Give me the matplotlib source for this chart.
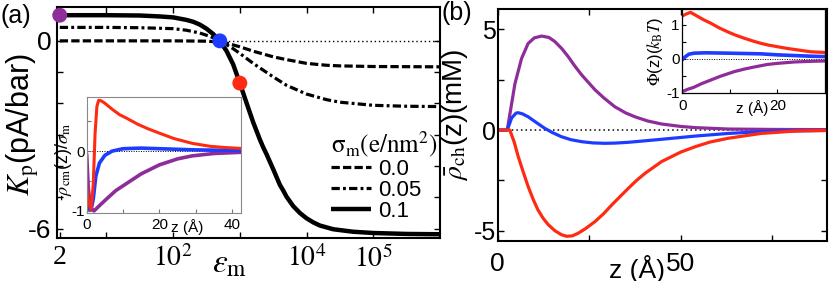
import matplotlib
matplotlib.use('Agg')
import matplotlib.pyplot as plt
import numpy as np

plt.rcParams['font.family'] = ['Liberation Sans', 'DejaVu Sans']
plt.rcParams['mathtext.fontset'] = 'stix'

purple = '#8E2C9A'
red = '#FF2A12'
blue = '#1E3CFF'

# ---- panel (a): K_p vs eps_m, three membrane charges
eps_01 = [2, 10, 31.6, 63.1, 100, 158, 200, 251, 316, 398, 501, 631, 794, 1000,
          1259, 1585, 1995, 2239, 2512, 3162, 3981, 4467, 5012, 6310, 7943,
          1e4, 1.26e4, 1.58e4, 2.51e4, 5.01e4, 1e5, 3.16e5, 1e6]
kp_01 = [0.82, 0.82, 0.81, 0.78, 0.75, 0.67, 0.61, 0.52, 0.39, 0.22, 0.0, -0.32,
         -0.75, -1.35, -1.98, -2.6, -3.15, -3.4, -3.62, -4.1, -4.6, -4.78, -4.98,
         -5.28, -5.5, -5.67, -5.8, -5.9, -6.02, -6.1, -6.14, -6.17, -6.18]

eps_005 = [2, 10, 31.6, 100, 158, 251, 316, 398, 501, 631, 794, 1000, 1585,
           3162, 5012, 1e4, 2e4, 3.16e4, 1e5, 3.16e5, 1e6]
kp_005 = [0.43, 0.43, 0.42, 0.39, 0.34, 0.25, 0.18, 0.1, 0.0, -0.12, -0.25, -0.4,
          -0.72, -1.15, -1.42, -1.7, -1.88, -1.96, -2.06, -2.09, -2.1]

eps_00 = [2, 100, 316, 501, 631, 1000, 1585, 3162, 5012, 1e4, 2e4, 3.16e4, 1e5, 1e6]
kp_00 = [0.0, 0.0, -0.01, -0.04, -0.07, -0.19, -0.33, -0.51, -0.6, -0.72, -0.78,
         -0.8, -0.82, -0.83]

dot_eps = [2, 501, 1000]
dot_kp = [0.82, 0.0, -1.35]
dot_colors = [purple, blue, red]

# inset (a): -rho_cm(z)/sigma_m
za_red = [0, 0.5, 1.2, 1.8, 2.3, 2.8, 3.3, 4, 5, 7, 9, 11, 14, 17, 20, 24, 29, 34, 38, 42.5]
ra_red = [-0.6, -0.85, -0.98, -0.55, 0.3, 0.75, 0.85, 0.84, 0.8, 0.7, 0.61, 0.55,
          0.45, 0.37, 0.3, 0.21, 0.13, 0.08, 0.06, 0.045]
za_blue = [0, 0.6, 1.2, 1.8, 2.5, 3.5, 5, 7, 10, 15, 20, 30, 42.5]
ra_blue = [-0.82, -0.97, -0.98, -0.8, -0.42, -0.2, -0.07, 0.0, 0.04, 0.05, 0.04, 0.02, 0.01]
za_purple = [0, 0.4, 1.0, 2.0, 3.7, 6, 8, 11, 15, 20, 25, 29, 35, 42.5]
ra_purple = [-0.07, -0.6, -0.95, -1.0, -0.9, -0.77, -0.66, -0.54, -0.38, -0.23,
             -0.13, -0.08, -0.04, -0.02]

# ---- panel (b): rho_ch(z) in mM
zb_purple = [0, 2.6, 4.7, 6.5, 8.3, 10, 12, 14, 15.6, 17.5, 19.3, 21, 23, 26.6, 29,
             32, 35, 37.5, 41, 44.8, 50, 54, 63, 75, 90]
rb_purple = [0, 0.0, 2.3, 3.55, 4.3, 4.58, 4.67, 4.6, 4.4, 4.05, 3.64, 3.2, 2.73,
             2.0, 1.6, 1.16, 0.85, 0.66, 0.45, 0.3, 0.18, 0.12, 0.05, 0.03, 0.02]
zb_blue = [0, 2.6, 3.8, 5.0, 5.6, 6.8, 8.3, 10.5, 12.9, 15, 17.4, 20, 23, 26, 29.3,
           32, 35.7, 40, 44.8, 50, 54, 63, 70, 76.8, 90]
rb_blue = [0, 0.0, 0.6, 0.84, 0.86, 0.8, 0.66, 0.38, 0.08, -0.13, -0.33, -0.48,
           -0.58, -0.64, -0.66, -0.65, -0.61, -0.54, -0.46, -0.37, -0.3, -0.17,
           -0.1, -0.05, -0.02]
zb_red = [0, 3.3, 4.5, 5.6, 7, 8.3, 9.7, 11, 12.4, 13.8, 15.6, 17.4, 18.8, 20.4,
          22, 24, 26.6, 29, 31.2, 33.5, 35.7, 38, 40.3, 44.8, 50, 54, 58, 63, 72,
          81.4, 90]
rb_red = [0, 0.0, -0.6, -1.32, -2.1, -2.8, -3.45, -3.97, -4.38, -4.7, -5.0, -5.2,
          -5.28, -5.26, -5.13, -4.9, -4.55, -4.15, -3.72, -3.3, -2.9, -2.5, -2.15,
          -1.57, -1.1, -0.83, -0.6, -0.41, -0.17, -0.05, -0.02]

# inset (b): Phi(z) in kT
zi_red = [0, 0.8, 1.75, 3, 4.5, 6, 7.8, 9.5, 11, 13, 15, 16.5, 18, 20, 22, 23.5, 25, 27, 28.5, 30]
pi_red = [1.25, 1.31, 1.36, 1.26, 1.14, 1.04, 0.9, 0.79, 0.7, 0.6, 0.51, 0.45, 0.4,
          0.35, 0.3, 0.27, 0.24, 0.2, 0.19, 0.18]
zi_blue = [0, 0.6, 1.4, 2.5, 5, 9.5, 13, 16.5, 20, 23.5, 27, 30]
pi_blue = [-0.03, 0.05, 0.13, 0.16, 0.17, 0.16, 0.15, 0.14, 0.11, 0.09, 0.07, 0.06]
zi_purple = [0, 1.2, 2.5, 4, 6, 8, 9.5, 11, 13, 15, 16.5, 18, 20, 23.5, 27, 30]
pi_purple = [-0.97, -0.9, -0.84, -0.74, -0.63, -0.52, -0.45, -0.38, -0.31, -0.25,
             -0.21, -0.17, -0.14, -0.1, -0.08, -0.07]

fig = plt.figure(figsize=(8.3, 2.81), dpi=100)

# ---------------- panel (a)
ax = fig.add_axes([0.0683, 0.153, 0.4618, 0.823])
ax.set_xscale('log')
ax.plot(eps_00, kp_00, color='k', lw=2.3, dashes=(2.6, 1.0), label='0.0')
ax.plot(eps_005, kp_005, color='k', lw=2.3, dashes=(2.6, 1.0, 0.9, 1.0), label='0.05')
ax.plot(eps_01, kp_01, color='k', lw=3.2, solid_capstyle='butt', label='0.1')
ax.hlines(0, dot_eps[1], eps_01[-1], colors='k', linestyles=(0, (1, 2)), lw=1)
ax.scatter(dot_eps, dot_kp, s=95, c=dot_colors, zorder=5, clip_on=False)
ax.set_xlim(1.8, 1e6)
ax.set_ylim(-6.3, 1.09)
ax.set_xticks([2, 10, 100, 1000, 1e4, 1e5])
ax.set_xticklabels(['2', '', r'$10^2$', '', r'$10^4$', r'$10^5$'],
                   family='Liberation Serif')
ax.xaxis.set_minor_locator(matplotlib.ticker.NullLocator())
ax.set_yticks(range(-6, 1))
ax.set_yticklabels(['-6', '', '', '', '', '', '0'])
ax.tick_params(direction='in', top=True, right=True, length=4.5, width=1)
ax.tick_params(axis='x', labelsize=20, pad=5)
ax.tick_params(axis='y', labelsize=19, pad=4)
for s in ax.spines.values():
    s.set_linewidth(1.5)
ax.set_ylabel(r'$K_{\rm p}$(pA/bar)', fontsize=22)
ax.yaxis.set_label_coords(-0.04, 0.49)
ax.set_xlabel(r'$\varepsilon_{\rm m}$', fontsize=24)
ax.xaxis.set_label_coords(0.452, -0.045)
leg = ax.legend(loc='lower left', bbox_to_anchor=(0.715, 0.07), frameon=False,
                fontsize=16, title=r'$\mathrm{\sigma_m(e/nm^2)}$',
                title_fontsize=18, handlelength=1.8, handletextpad=0.35,
                labelspacing=0.0, borderpad=0, borderaxespad=0)
leg._legend_box.align = 'left'

# inset (a)
ia = fig.add_axes([0.1045, 0.243, 0.186, 0.413])
ia.plot(za_purple, ra_purple, color=purple, lw=2.6)
ia.plot(za_blue, ra_blue, color=blue, lw=2.6)
ia.plot(za_red, ra_red, color=red, lw=2.2)
ia.axhline(0, color='k', ls=(0, (1, 1.5)), lw=0.7, zorder=0)
ia.set_xlim(0, 42.5)
ia.set_ylim(-1.03, 0.91)
ia.set_xticks([0, 10, 20, 30, 40])
ia.set_xticklabels(['0', '', '20', '', '40'])
ia.set_yticks([-1, -0.5, 0, 0.5])
ia.set_yticklabels(['-1', '', '0', ''])
ia.tick_params(direction='in', length=3, width=0.8, labelsize=11, color='#777777')
ia.tick_params(axis='x', pad=4)
ia.tick_params(axis='y', pad=1)
for s in ia.spines.values():
    s.set_linewidth(0.8)
    s.set_color('#888888')
ia.set_xlabel('z (Å)', fontsize=11, ha='left')
ia.xaxis.set_label_coords(0.545, -0.055)
ia.set_ylabel(r'-$\rho_{\rm cm}$(z)/$\sigma_{\rm m}$', fontsize=13)
ia.yaxis.set_label_coords(-0.085, 0.44)

# ---------------- panel (b)
bx = fig.add_axes([0.5997, 0.1434, 0.3964, 0.8235])
bx.plot(zb_purple, rb_purple, color=purple, lw=2.3)
bx.plot(zb_blue, rb_blue, color=blue, lw=2.3)
bx.plot(zb_red, rb_red, color=red, lw=2.3)
bx.axhline(0, color='k', ls=(0, (1, 2)), lw=1.1, zorder=0)
bx.set_xlim(0, 90)
bx.set_ylim(-5.5, 6.0)
bx.set_xticks([0, 25, 50, 75])
bx.set_xticklabels(['0', '', '50', ''])
bx.set_yticks([-5, -2.5, 0, 2.5, 5])
bx.set_yticklabels(['-5', '', '0', '', '5'])
bx.tick_params(direction='in', top=True, right=True, length=4.5, width=1)
bx.tick_params(axis='x', labelsize=19, pad=8)
bx.tick_params(axis='y', labelsize=18, pad=1.5)
for s in bx.spines.values():
    s.set_linewidth(1.5)
bx.set_xlabel('z (Å)', fontsize=19, ha='right')
bx.xaxis.set_label_coords(0.508, -0.06)
bx.set_ylabel(r'$\bar{\rho}_{\rm ch}$(z)(mM)', fontsize=20)
bx.yaxis.set_label_coords(-0.083, 0.545)

# inset (b)
ib = fig.add_axes([0.822, 0.668, 0.172, 0.299])
ib.plot(zi_purple, pi_purple, color=purple, lw=2.3)
ib.plot(zi_blue, pi_blue, color=blue, lw=2.6)
ib.plot(zi_red, pi_red, color=red, lw=2.3)
ib.axhline(0, color='k', ls=(0, (1, 1.5)), lw=0.7, zorder=0)
ib.set_xlim(0, 30)
ib.set_ylim(-1.02, 1.45)
ib.set_xticks([0, 10, 20])
ib.set_xticklabels(['0', '', '20'])
ib.set_yticks([-1, -0.5, 0, 0.5, 1])
ib.set_yticklabels(['-1', '', '0', '', '1'])
ib.tick_params(direction='in', length=3, width=0.8, labelsize=11)
ib.tick_params(axis='x', pad=4)
ib.tick_params(axis='y', pad=2)
for s in ib.spines.values():
    s.set_linewidth(0.9)
ib.set_xlabel('z (Å)', fontsize=11, ha='right')
ib.xaxis.set_label_coords(0.6, -0.075)
ib.set_ylabel(r'$\Phi$(z)($k_{\rm B}T$)', fontsize=12)
ib.yaxis.set_label_coords(-0.12, 0.5)

fig.text(0.0, 0.985, '(a)', fontsize=18, va='top', ha='left')
fig.text(0.532, 0.995, '(b)', fontsize=18, va='top', ha='left')

fig.savefig('out.png', dpi=100)
